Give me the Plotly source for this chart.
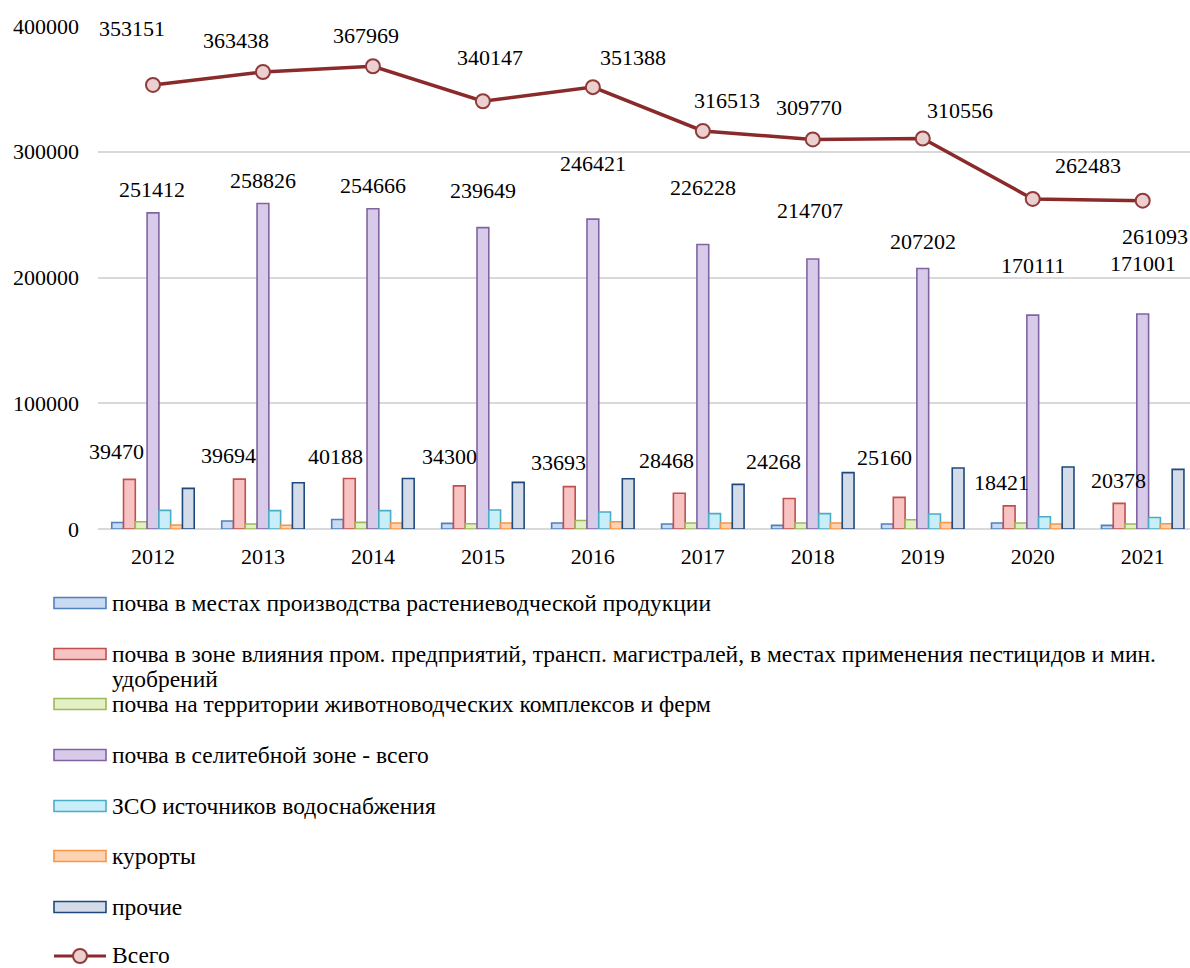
import plotly.graph_objects as go

# ---- data -------------------------------------------------------------
years = [2012, 2013, 2014, 2015, 2016, 2017, 2018, 2019, 2020, 2021]

series_names = [
    "почва в местах производства растениеводческой продукции",
    "почва в зоне влияния пром. предприятий, трансп. магистралей, в местах применения пестицидов и мин.",
    "почва на территории животноводческих комплексов и ферм",
    "почва в селитебной зоне - всего",
    "ЗСО источников водоснабжения",
    "курорты",
    "прочие",
]
name_continuation = {1: "удобрений"}
total_name = "Всего"

crop_soil = [5200, 6400, 7600, 4500, 4800, 4000, 2900, 4000, 4800, 2900]
industrial_soil = [39470, 39694, 40188, 34300, 33693, 28468, 24268, 25160, 18421, 20378]
livestock_soil = [5800, 4000, 5300, 4200, 6800, 4800, 4800, 7400, 4800, 4000]
residential_soil = [251412, 258826, 254666, 239649, 246421, 226228, 214707, 207202, 170111, 171001]
water_zone = [14800, 14600, 14600, 15100, 13500, 12200, 12200, 11900, 9800, 9200]
resorts = [3200, 3000, 4800, 4800, 5800, 4800, 4800, 5200, 4000, 4200]
other = [32300, 36800, 40200, 37100, 40000, 35500, 44800, 48500, 49300, 47400]
total = [353151, 363438, 367969, 340147, 351388, 316513, 309770, 310556, 262483, 261093]

y_ticks = [0, 100000, 200000, 300000, 400000]

# ---- styling ----------------------------------------------------------
FONT = "Liberation Serif"
FS = 22          # numbers and axis ticks
FS_LEG = 23.5    # legend entries
fills = ["#c9daf3", "#f8c3c3", "#e3efc4", "#d8cbea", "#c8eff9", "#fcd2b2", "#d5dce9"]
edges = ["#4f81bd", "#c0504d", "#9bbb59", "#8064a2", "#4bacc6", "#f79646", "#1f497d"]
LINE = "#8a2a2a"
MARK_FILL, MARK_EDGE = "#ecd0d0", "#8f3b3b"
BARGAP = 0.25

# label offsets in pixels (dx, dy) relative to the labelled point
red_label_off = [(-13, -28), (-11, -24), (-14, -22), (-10, -29), (-11, -24),
                 (-13, -33), (-16, -37), (-15, -40), (-8, -23), (-1, -23)]
purple_label_off = [(-1, -23), (0, -23), (0, -23), (0, -37), (0, -56),
                    (0, -57), (-3, -49), (0, -27), (0, -50), (0, -50)]
total_label_off = [(-21, -56), (-27, -31), (-7, -31), (7, -44), (40, -30),
                   (24, -30), (-4, -32), (37, -28), (55, -33), (12, 36)]

bar_values = [crop_soil, industrial_soil, livestock_soil, residential_soil,
              water_zone, resorts, other]

fig = go.Figure()
for name, vals, fc, ec in zip(series_names, bar_values, fills, edges):
    fig.add_trace(go.Bar(
        x=years, y=vals, name=name,
        marker=dict(color=fc, line=dict(color=ec, width=1.6)),
        showlegend=False,
    ))

fig.add_trace(go.Scatter(
    x=years, y=total, name=total_name, mode="lines+markers",
    line=dict(color=LINE, width=3.5),
    marker=dict(size=14, color=MARK_FILL, line=dict(color=MARK_EDGE, width=2)),
    showlegend=False,
))

# plot-area geometry in pixels (used for the hand-built legend)
L, R, T, B = 98, 1190, 26, 529
n_bars = len(bar_values)
bw = (1 - BARGAP) / n_bars


def slot_x(year, k):
    return year + (k - (n_bars - 1) / 2) * bw


num_font = dict(family=FONT, size=FS, color="black")
leg_font = dict(family=FONT, size=FS_LEG, color="black")

annotations = []
for i, yr in enumerate(years):
    dx, dy = red_label_off[i]
    annotations.append(dict(x=slot_x(yr, 1), y=industrial_soil[i], text=str(industrial_soil[i]),
                            xshift=dx, yshift=-dy, showarrow=False, font=num_font))
    dx, dy = purple_label_off[i]
    annotations.append(dict(x=slot_x(yr, 3), y=residential_soil[i], text=str(residential_soil[i]),
                            xshift=dx, yshift=-dy, showarrow=False, font=num_font))
    dx, dy = total_label_off[i]
    annotations.append(dict(x=yr, y=total[i], text=str(total[i]),
                            xshift=dx, yshift=-dy, showarrow=False, font=num_font))

# legend drawn below the chart
W, H = R - L, B - T


def px(x):
    return (x - L) / W


def py(y):
    return (B - y) / H


def legend_text(text, yc):
    annotations.append(dict(xref="paper", yref="paper", x=px(111), y=py(yc),
                            xanchor="left", yanchor="middle", text=text,
                            showarrow=False, font=leg_font, borderpad=0))


legend_rows = [603, 654, 704, 755, 806, 856, 907]
shapes = []
for k, (name, fc, ec, yc) in enumerate(zip(series_names, fills, edges, legend_rows)):
    shapes.append(dict(type="rect", xref="paper", yref="paper",
                       x0=px(54), x1=px(106), y0=py(yc + 5.5), y1=py(yc - 5.5),
                       fillcolor=fc, line=dict(color=ec, width=1.6)))
    legend_text(name, yc)
    if k in name_continuation:
        legend_text(name_continuation[k], yc + 25)

yl = 956
shapes.append(dict(type="line", xref="paper", yref="paper",
                   x0=px(54), x1=px(106), y0=py(yl), y1=py(yl),
                   line=dict(color=LINE, width=3)))
shapes.append(dict(type="circle", xref="paper", yref="paper",
                   xsizemode="pixel", ysizemode="pixel",
                   xanchor=px(80), yanchor=py(yl), x0=-7, x1=7, y0=-7, y1=7,
                   fillcolor=MARK_FILL, line=dict(color=MARK_EDGE, width=2)))
legend_text(total_name, yl - 1)

fig.update_layout(
    width=1190, height=968,
    margin=dict(l=L, r=1190 - R, t=T, b=968 - B),
    paper_bgcolor="white", plot_bgcolor="white",
    barmode="group", bargap=BARGAP, bargroupgap=0,
    showlegend=False,
    font=dict(family=FONT, size=FS, color="black"),
    annotations=annotations, shapes=shapes,
    xaxis=dict(range=[years[0] - 0.5, years[-1] + 0.43], tickvals=years,
               ticktext=[str(y) for y in years], showgrid=False, zeroline=False,
               showline=False, ticks="", ticklabelstandoff=12,
               tickfont=num_font),
    yaxis=dict(range=[0, 400000], tickvals=y_ticks, ticktext=[str(v) for v in y_ticks],
               showgrid=True, gridcolor="#d9d9d9", gridwidth=1.5,
               zeroline=True, zerolinecolor="#d9d9d9", zerolinewidth=1.5,
               showline=False, ticks="", ticklabelstandoff=18,
               tickfont=num_font),
)

fig.write_html("out.html")
